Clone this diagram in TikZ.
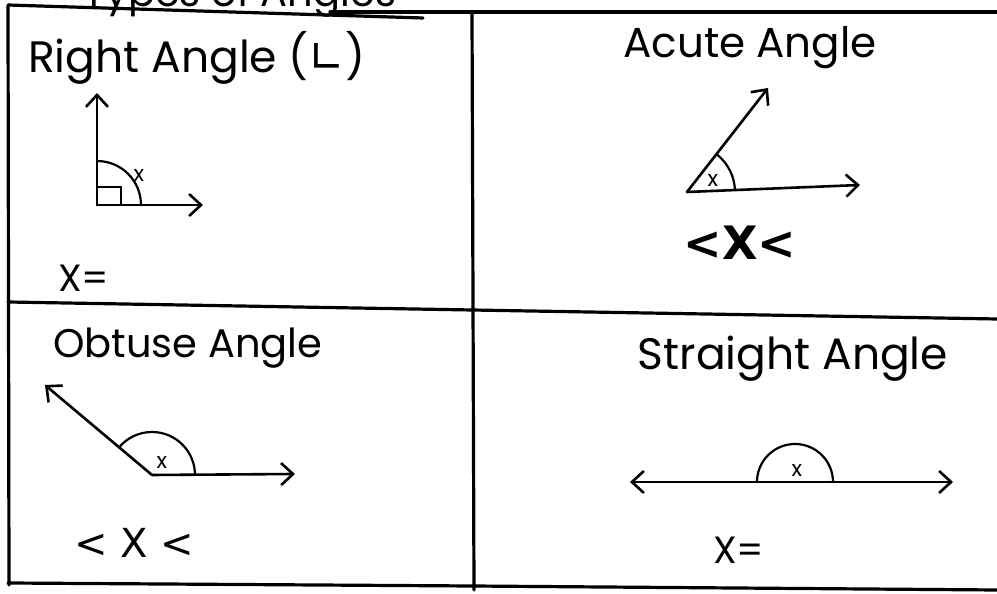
\documentclass[tikz,border=0pt]{standalone}
\usepackage{fontspec}
\setmainfont{Poppins}
\newfontfamily\symf{DejaVu Sans}
\usetikzlibrary{arrows.meta}
\begin{document}
\begin{tikzpicture}[x=1pt,y=1pt,
  border/.style={line width=3.2pt, line cap=round},
  ray/.style={line width=2.6pt, line cap=round, -{Straight Barb[length=12pt,width=22pt,line width=2.6pt]}},
  bray/.style={line width=2.6pt, line cap=round, {Straight Barb[length=12pt,width=22pt,line width=2.6pt]}-{Straight Barb[length=12pt,width=22pt,line width=2.6pt]}},
  arcline/.style={line width=2.2pt},
  head/.style={font=\fontsize{40}{40}\selectfont, anchor=base, inner sep=0pt},
  eq/.style={font=\fontsize{38}{38}\selectfont, inner sep=0pt},
  lbl/.style={font=\fontsize{22}{22}\selectfont, inner sep=0pt}
]
\useasboundingbox (0,0) rectangle (997,594);
\fill[white] (0,0) rectangle (997,594);
\begin{scope}
\clip (0,0) rectangle (997,594);
\node[head, anchor=base] (title) at (240,587) {Types of Angles};
\end{scope}
% table borders
\draw[border] (8,589) -- (423,576);
\draw[border] (330,582) -- (997,582);
\draw[border] (8,588) -- (9,9);
\draw[border] (472,582) -- (474,4);
\draw[border] (8,292) -- (472,284) -- (997,275);
\draw[border] (8,11) -- (472,8) -- (997,4);

% right angle
\node[head, anchor=base west, font=\fontsize{44}{44}\selectfont] (rtitle) at (28,521) {Right Angle ({\symf ∟})};
\coordinate (v1) at (97,389);
\coordinate (v1up) at (97,501);
\coordinate (v1r) at (203,389);
\draw[ray] (v1) -- (v1up);
\draw[ray] (v1) -- (v1r);
\draw[arcline] (v1) rectangle ++(24,18);
\draw[arcline] ([xshift=44pt]v1) arc (0:90:44pt);
\node[lbl] (x1) at (139,419) {x};
\node[eq, anchor=base west] (eq1) at (58,302) {X=};

% acute angle
\node[head, font=\fontsize{42}{42}\selectfont] (atitle) at (750,536) {Acute Angle};
\coordinate (v2) at (687,402);
\coordinate (v2r) at (860,409);
\coordinate (v2u) at (768,506);
\draw[ray] (v2) -- (v2r);
\draw[ray] (v2) -- (v2u);
\draw[arcline] ([shift={(2.3:48pt)}]v2) arc (2.3:52:48pt);
\node[lbl] (x2) at (713,414) {x};
\node[eq, font=\fontsize{46}{46}\symf\bfseries] (eq2) at (740,351) {<X<};

% obtuse angle
\node[head, anchor=base west] (otitle) at (53,236) {Obtuse Angle};
\coordinate (v3) at (152,119);
\coordinate (v3r) at (295,120);
\coordinate (v3l) at (45,209);
\draw[ray] (v3) -- (v3r);
\draw[ray] (v3) -- (v3l);
\draw[arcline] ([xshift=43pt]v3) arc (0:140:43pt);
\node[lbl] (x3) at (162,132) {x};
\node[eq, font=\fontsize{40}{40}\symf] (eq3) at (134,51) {< X <};

% straight angle
\node[head, font=\fontsize{44}{44}\selectfont] (stitle) at (793,224) {Straight Angle};
\coordinate (v4l) at (630,112);
\coordinate (v4r) at (953,112);
\coordinate (v4) at (795,112);
\draw[bray] (v4l) -- (v4r);
\draw[arcline] ([xshift=38pt]v4) arc (0:180:38pt);
\node[lbl] (x4) at (797,124) {x};
\node[eq, anchor=base west] (eq4) at (713,30) {X=};
\end{tikzpicture}
\end{document}
